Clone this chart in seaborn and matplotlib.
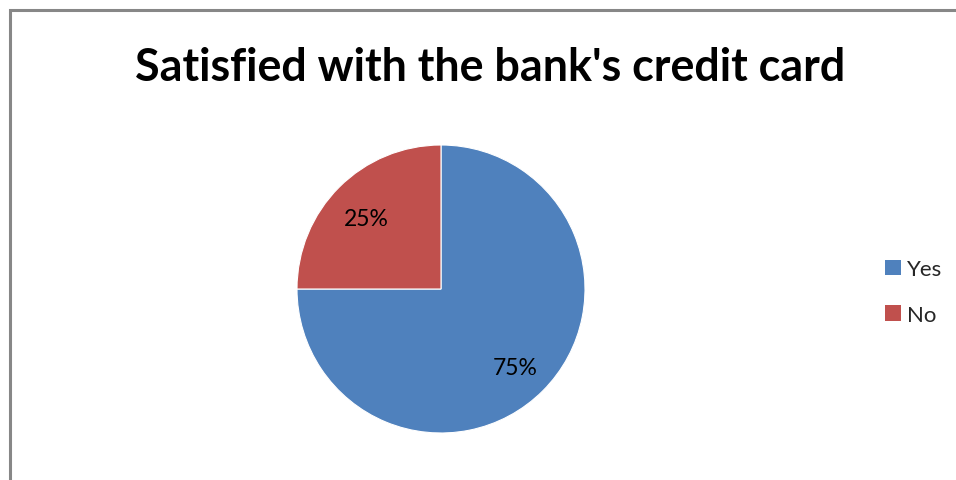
import matplotlib
matplotlib.use("Agg")
import matplotlib.pyplot as plt
import seaborn as sns
from matplotlib.patches import Patch, Rectangle

categories = ["Yes", "No"]
values = [75, 25]
colors = ["#4F81BD", "#C0504D"]
title = "Satisfied with the bank's credit card"

sns.set_theme(style="white")
plt.rcParams["font.family"] = ["Lato", "DejaVu Sans"]

W, H = 956, 481
fig = plt.figure(figsize=(W / 100, H / 100), dpi=100)
fig.patch.set_facecolor("white")

# border
fig.add_artist(Rectangle((9.5 / W, -0.2), 1.5, (H - 11) / H + 0.2, transform=fig.transFigure,
                         fill=False, edgecolor="#878787", linewidth=2.2))

cx, cy, r = 441, 290, 144
ax = fig.add_axes([(cx - r) / W, (H - cy - r) / H, 2 * r / W, 2 * r / H])
wedges, texts, autotexts = ax.pie(
    values, colors=colors, startangle=90, counterclock=False,
    autopct="%d%%", pctdistance=0.73, radius=1,
    wedgeprops=dict(edgecolor="white", linewidth=0.8),
    textprops=dict(fontsize=16.5, color="black"))
for at in autotexts:
    x, y = at.get_position()
    at.set_position((x, y - 4 / r))
ax.set_xlim(-1, 1)
ax.set_ylim(-1, 1)
ax.set_aspect("equal")
ax.axis("off")

t = fig.text(490 / W, 1 - 68 / H, title, ha="center", va="center",
             fontsize=30, fontweight="bold", color="black")
fig.canvas.draw()
bb = t.get_window_extent(renderer=fig.canvas.get_renderer())
t.set_fontsize(30 * 711 / bb.width)

handles = [Patch(facecolor=c, edgecolor="none") for c in colors]
fig.legend(handles, categories, loc="center left", bbox_to_anchor=(874 / W, 1 - 293 / H),
           frameon=False, fontsize=16, handlelength=0.7, handleheight=0.7,
           handletextpad=0.3, labelspacing=1.15, borderpad=0)

fig.savefig("out.png", dpi=100, facecolor="white")
